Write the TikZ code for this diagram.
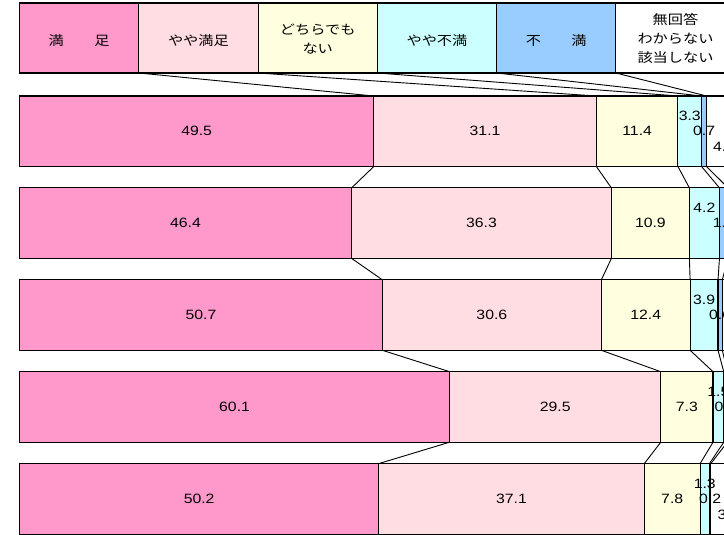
\documentclass[tikz,border=0pt]{standalone}
\usepackage{fontspec}
\setmainfont{Liberation Sans}
\newfontfamily\jpfont{Noto Sans CJK JP}
\definecolor{manzoku}{HTML}{FF99CC}
\definecolor{yayaman}{HTML}{FFDDE3}
\definecolor{dochira}{HTML}{FFFFE0}
\definecolor{yayafu}{HTML}{CCFFFF}
\definecolor{fuman}{HTML}{99CCFF}
\newcommand\wide[1]{\scalebox{1.17}[1]{#1}}
\tikzset{
  seg/.style={draw=black,line width=1.1pt},
  val/.style={font=\fontsize{13.5}{16}\selectfont,inner sep=0pt},
  leg/.style={font=\jpfont\fontsize{13}{19}\selectfont,inner sep=0pt,align=center},
  link/.style={line width=0.9pt}
}
\begin{document}
\begin{tikzpicture}[x=1pt,y=-1pt]
\useasboundingbox (0,0) rectangle (724,535);
\clip (0,0) rectangle (724,535);
\begin{scope}[xshift=19.5pt,x=7.157pt]
% legend
\filldraw[seg,fill=manzoku](0,3) rectangle (16.667,73);
\filldraw[seg,fill=yayaman](16.667,3) rectangle (33.333,73);
\filldraw[seg,fill=dochira](33.333,3) rectangle (50,73);
\filldraw[seg,fill=yayafu](50,3) rectangle (66.667,73);
\filldraw[seg,fill=fuman](66.667,3) rectangle (83.333,73);
\filldraw[seg,fill=white](83.333,3) rectangle (100,73);
\node[leg] (l-man) at (8.333,40.5){\wide{満　　足}};
\node[leg] (l-yaya) at (25,40.5){\wide{やや満足}};
\node[leg] (l-doc) at (41.667,40.5){\wide{\begin{tabular}{@{}c@{}}どちらでも\\ない\end{tabular}}};
\node[leg] (l-yfu) at (58.333,40.5){\wide{やや不満}};
\node[leg] (l-fu) at (75,40.5){\wide{不　　満}};
\node[leg] (l-na) at (91.667,39.4){\wide{\begin{tabular}{@{}c@{}}無回答\\わからない\\該当しない\end{tabular}}};
\foreach \k in {1,...,5}
  \coordinate (leg\k) at (16.667*\k,73);
% bars
\foreach \r/\va/\vb/\vc/\vd/\ve/\vf in {1/49.5/31.1/11.4/3.3/0.7/4.0,2/46.4/36.3/10.9/4.2/1.2/1.0,3/50.7/30.6/12.4/3.9/0.6/1.8,4/60.1/29.5/7.3/1.5/0.5/1.1,5/50.2/37.1/7.8/1.3/0.2/3.4}{
  \pgfmathsetmacro\ytop{96+91.9*(\r-1)}
  \pgfmathsetmacro\ybot{\ytop+70.5}
  \pgfmathsetmacro\ymid{\ytop+35.25}
  \pgfmathsetmacro\xa{\va}
  \pgfmathsetmacro\xb{\xa+\vb}
  \pgfmathsetmacro\xc{\xb+\vc}
  \pgfmathsetmacro\xd{\xc+\vd}
  \pgfmathsetmacro\xe{\xd+\ve}
  \filldraw[seg,fill=manzoku](0,\ytop) rectangle (\xa,\ybot);
  \filldraw[seg,fill=yayaman](\xa,\ytop) rectangle (\xb,\ybot);
  \filldraw[seg,fill=dochira](\xb,\ytop) rectangle (\xc,\ybot);
  \filldraw[seg,fill=yayafu](\xc,\ytop) rectangle (\xd,\ybot);
  \filldraw[seg,fill=fuman](\xd,\ytop) rectangle (\xe,\ybot);
  \filldraw[seg,fill=white](\xe,\ytop) rectangle (100,\ybot);
  \foreach \k/\x in {1/\xa,2/\xb,3/\xc,4/\xd,5/\xe}{
    \coordinate (r\r-top\k) at (\x,\ytop);
    \coordinate (r\r-bot\k) at (\x,\ybot);
  }
  \node[val] at ({\xa/2},\ymid){\wide{\va}};
  \node[val] at ({(\xa+\xb)/2},\ymid){\wide{\vb}};
  \node[val] at ({(\xb+\xc)/2},\ymid){\wide{\vc}};
  \node[val] at ({(\xc+\xd)/2},\ymid-15){\wide{\vd}};
  \node[val] at ({(\xd+\xe)/2},\ymid){\wide{\ve}};
  \node[val,anchor=west] at ({\xe+0.9},\ymid+16){\wide{\vf}};
}
% links
\foreach \k in {1,...,5}
  \draw[link](leg\k)--(r1-top\k);
\foreach \r/\s in {1/2,2/3,3/4,4/5}
  \foreach \k in {1,...,5}
    \draw[link](r\r-bot\k)--(r\s-top\k);
\end{scope}
\end{tikzpicture}
\end{document}
